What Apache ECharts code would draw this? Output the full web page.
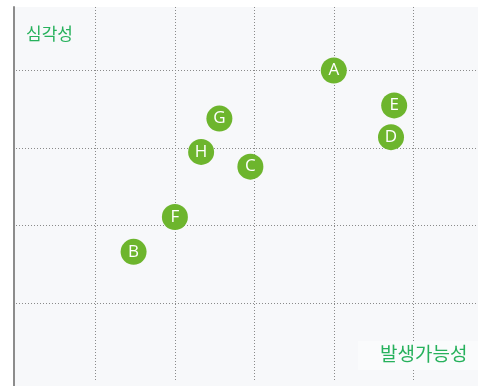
<!DOCTYPE html>
<html>
<head>
<meta charset="utf-8">
<script src="https://cdn.jsdelivr.net/npm/echarts@6/dist/echarts.min.js"></script>
<style>
  html, body { margin: 0; padding: 0; background: #ffffff; }
  #chart { width: 478px; height: 386px; }
</style>
</head>
<body>
<div id="chart"></div>
<script>
// Risk items plotted by likelihood (x) and severity (y), in grid-cell units
const riskNames  = ['A', 'B', 'C', 'D', 'E', 'F', 'G', 'H'];
const likelihood = [4.0, 1.48, 2.95, 4.72, 4.76, 2.0, 2.56, 2.33];
const severity   = [4.0, 1.66, 2.76, 3.14, 3.55, 2.11, 3.38, 2.95];

const xTitle = '발생가능성';
const yTitle = '심각성';

const points = riskNames.map((n, i) => [likelihood[i], severity[i], n]);

const dottedGrid = {
  show: true,
  showMinLine: false,
  showMaxLine: false,
  lineStyle: { color: '#8a8a8a', width: 1, type: [1, 2] }
};

const chart = echarts.init(document.getElementById('chart'), null, { renderer: 'canvas' });

chart.setOption({
  animation: false,
  grid: [
    { left: 16, top: 7, right: 0, bottom: 5.5, show: false },
    { left: 14, top: 7, right: 0, bottom: 0, show: true, backgroundColor: '#f7f8fa', borderWidth: 0 }
  ],
  xAxis: [
    {
      gridIndex: 0, type: 'value', min: 0, max: 5.815, interval: 1,
      axisLine: { show: false }, axisTick: { show: false }, axisLabel: { show: false },
      splitLine: dottedGrid
    },
    { gridIndex: 1, type: 'value', min: 0, max: 1, show: false }
  ],
  yAxis: [
    {
      gridIndex: 0, type: 'value', min: 0, max: 4.82, interval: 1,
      axisLine: { show: false }, axisTick: { show: false }, axisLabel: { show: false },
      splitLine: dottedGrid
    },
    {
      gridIndex: 1, type: 'value', min: 0, max: 1,
      axisLine: { show: true, onZero: false, lineStyle: { color: '#8c8c8c', width: 2 } },
      axisTick: { show: false }, axisLabel: { show: false }, splitLine: { show: false }
    }
  ],
  series: [{
    type: 'scatter',
    xAxisIndex: 0,
    yAxisIndex: 0,
    symbol: 'circle',
    symbolSize: 26,
    data: points,
    itemStyle: { color: '#6db52d', opacity: 1 },
    label: {
      show: true,
      position: 'inside',
      formatter: p => p.data[2],
      color: '#ffffff',
      fontSize: 17,
      fontWeight: 500,
      fontFamily: 'Open Sans'
    },
    z: 5
  }],
  graphic: [
    {
      type: 'text', left: 26, top: 25, z: 10,
      style: { text: yTitle, fill: '#27b15c', font: '17px "Noto Sans CJK KR"' }
    },
    {
      type: 'rect', shape: { x: 358, y: 341, width: 120, height: 29 }, z: 9,
      style: { fill: '#fafbfc' }
    },
    {
      type: 'text', left: 380, top: 344, z: 10,
      style: { text: xTitle, fill: '#27b15c', font: '19px "Noto Sans CJK KR"' }
    }
  ]
});
</script>
</body>
</html>
